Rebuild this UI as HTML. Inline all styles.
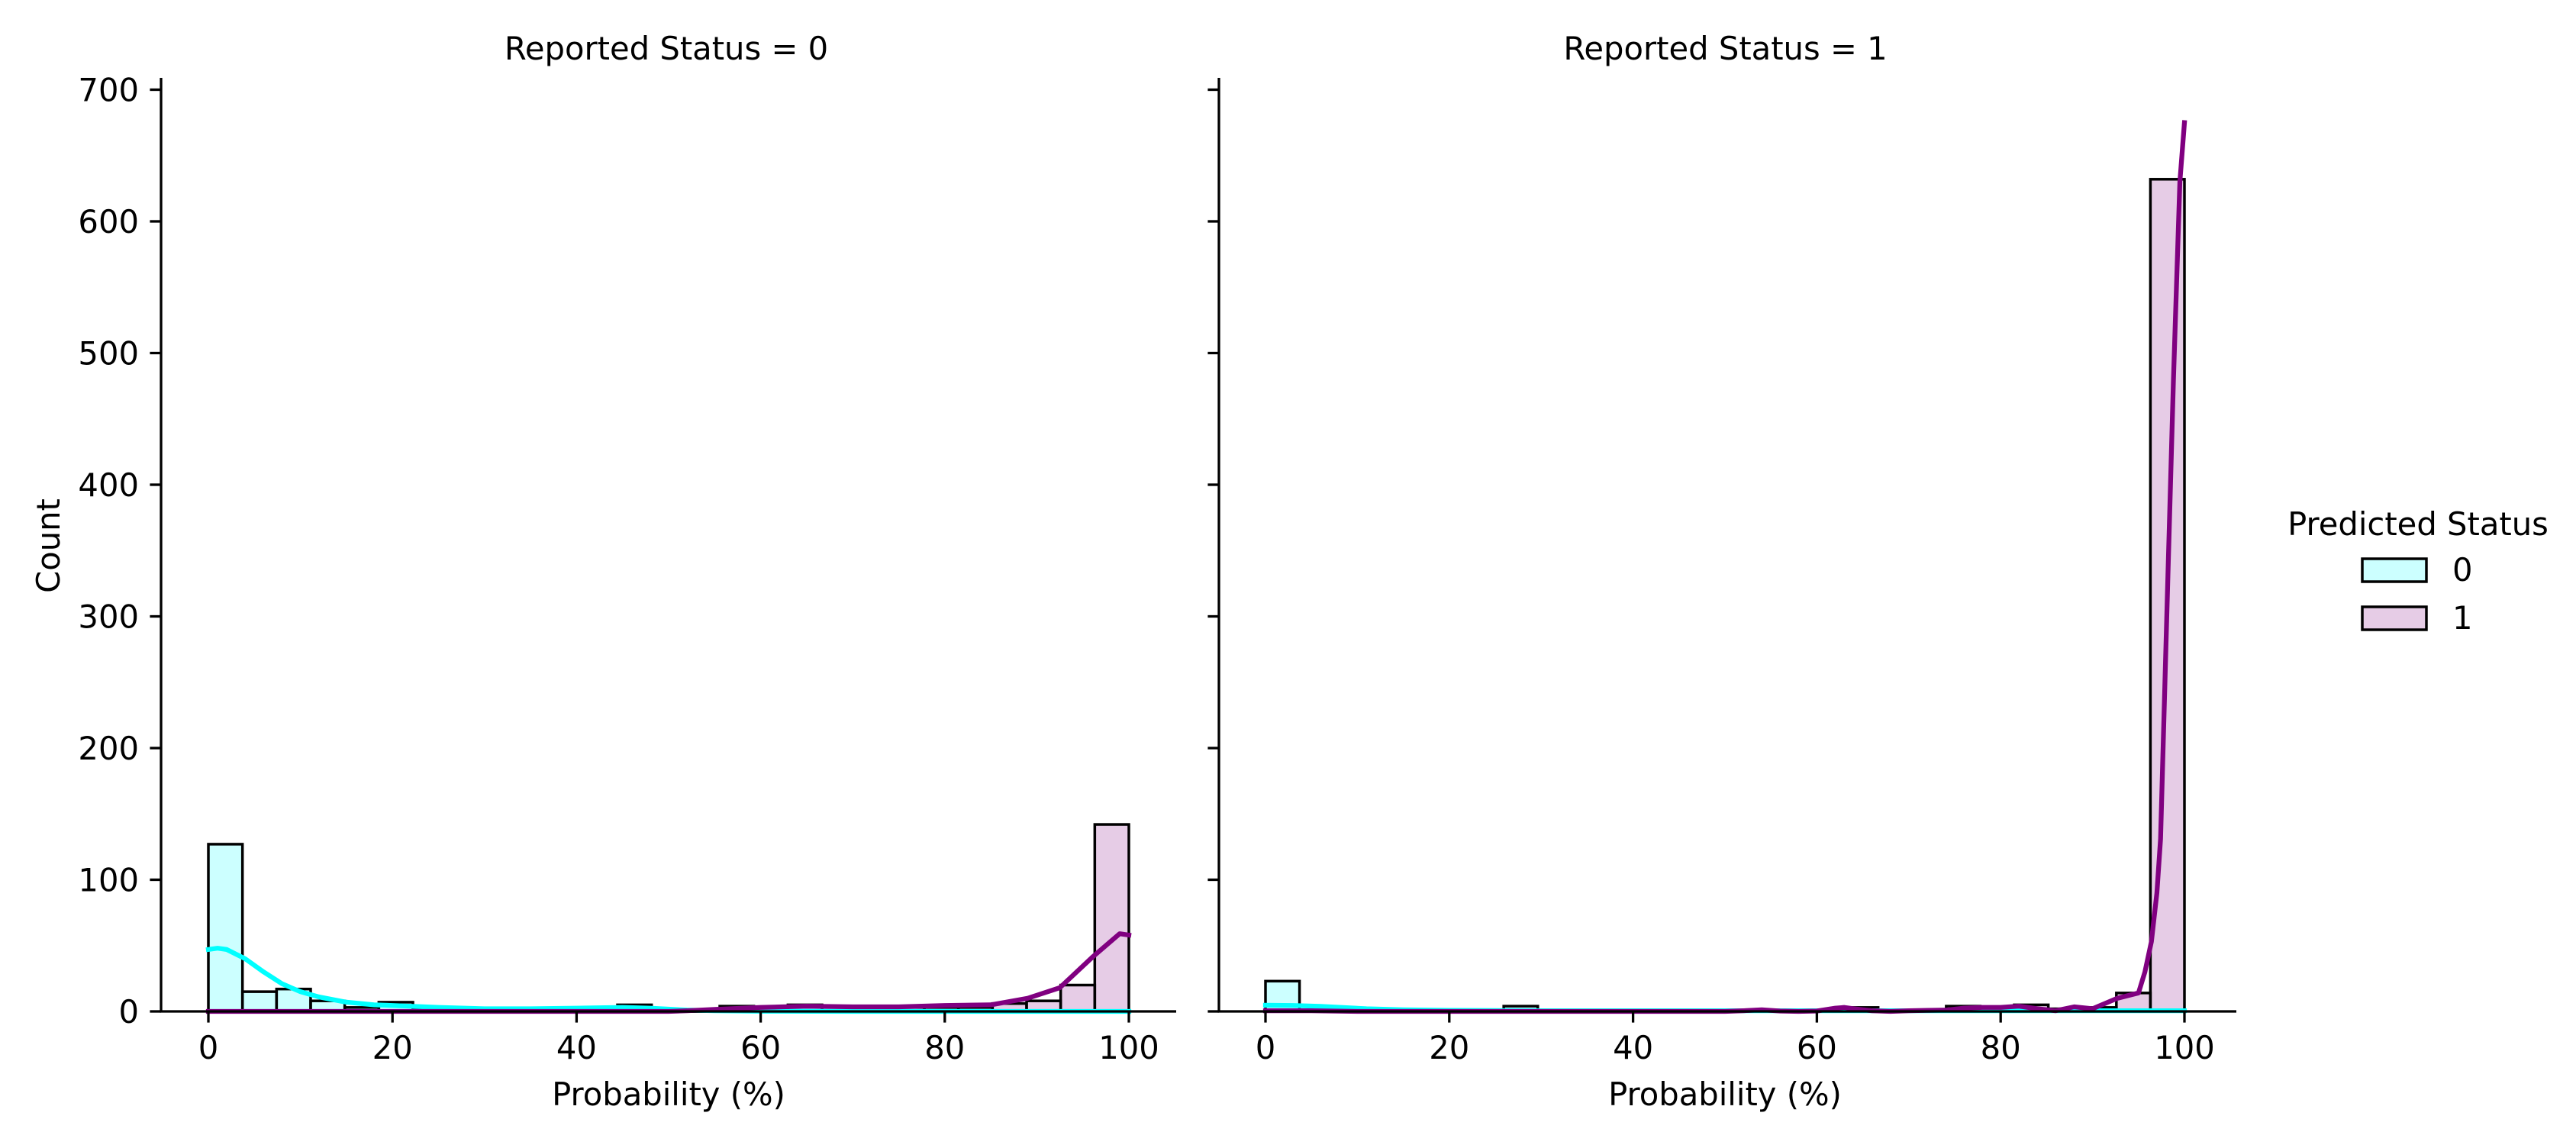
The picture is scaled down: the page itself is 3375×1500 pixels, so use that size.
<!DOCTYPE html>
<html><head><meta charset="utf-8"><style>
html,body{margin:0;padding:0;background:#fff;}
svg{display:block;font-family:"DejaVu Sans","Liberation Sans",sans-serif;}
</style></head><body>
<svg id="chart" width="3375" height="1500" viewBox="0 0 3375 1500">
<g id="g"></g>
</svg>
<script>
// ---- data ----
const binCount = 27;
const yTicks = [0,100,200,300,400,500,600,700];
const xTicks = [0,20,40,60,80,100];
const panelTitles = ["Reported Status = 0","Reported Status = 1"];
const left0 = [127,15,17,8,3,7,1,1,1,2,1,1,5,1,1,0,1,0,0,0,0,0,0,0,0,0,0];
const left1 = [0,0,0,0,0,0,0,0,0,0,0,0,0,1,1,4,3,5,4,3,3,3,3,6,8,20,142];
const right0 = [23,0,0,0,0,0,0,4,0,0,0,0,0,0,0,0,0,0,0,0,0,0,0,0,0,0,0];
const right1 = [0,0,0,0,0,0,0,0,0,0,0,0,0,0,1,0,0,3,0,1,4,2,5,2,3,14,632];
const kdeL0x = [0,1,2,4,6,8,10,12,15,18,20,25,30,35,40,45,48,52,55,60,70,80,90,100];
const kdeL0y = [47,48,47,40,30,21,15,11,7,5,4.5,3,2,2,2.5,3,2.5,1,0.5,0.2,0,0,0,0];
const kdeL1x = [0,10,20,30,40,50,52,55,60,65,70,75,80,85,89,92.5,96,99,100];
const kdeL1y = [0,0,0,0,0,0,0.5,1.5,3,4,3.5,3.5,4.5,5,10,18,41,59,58];
const kdeR0x = [0,3,6,11,15,20,30,50,70,100];
const kdeR0y = [4.7,4.5,3.8,2,1.2,0.8,0.5,0.5,0.5,0.5];
const kdeR1x = [0,5,10,20,40,50,52,54,56,58,60,62,63,64,66,68,70,72,74,76,78,80,82,84,86,88,90,92.7,95,95.7,96.4,97,97.4,98.2,98.8,99.5,100];
const kdeR1y = [0.5,0.5,0,0,0,0,0.5,1.2,0.3,0,0.3,2.5,3,2,0.5,0,0.5,0.8,1,2.5,3,3,4,2,0.5,3.5,2,10,14,30,53,90,131,330,480,630,675];

const NS="http://www.w3.org/2000/svg";
const g=document.getElementById('g');
function el(tag,attrs,parent){const e=document.createElementNS(NS,tag);for(const k in attrs)e.setAttribute(k,attrs[k]);(parent||g).appendChild(e);return e;}
const Y0=1325, YS=1.725, YTOP=102;
const panels=[
 {x0:273,x100:1479,sx:211,ex:1541,h0:left0,h1:left1,k0x:kdeL0x,k0y:kdeL0y,k1x:kdeL1x,k1y:kdeL1y,labels:true},
 {x0:1658,x100:2862,sx:1597,ex:2930,h0:right0,h1:right1,k0x:kdeR0x,k0y:kdeR0y,k1x:kdeR1x,k1y:kdeR1y,labels:false}
];
const yScale=v=>Y0-v*YS;
panels.forEach((p,pi)=>{
 const xs=v=>p.x0+(p.x100-p.x0)*v/100;
 const pg=el('g',{});
 
 
 const bw=100/binCount;
 [[p.h0,'#00ffff','predicted-0'],[p.h1,'#800080','predicted-1']].forEach(([arr,col,nm])=>{
  arr.forEach((v,i)=>{
   const r=el('rect',{x:xs(i*bw),y:yScale(v),width:xs((i+1)*bw)-xs(i*bw),height:v*YS,fill:col,'fill-opacity':0.2,stroke:'#000','stroke-width':3.5},pg);
   
   
  });
 });
 [[p.k0x,p.k0y,'#00ffff','kde-predicted-0'],[p.k1x,p.k1y,'#800080','kde-predicted-1']].forEach(([kx,ky,col,nm])=>{
  const pts=kx.map((x,i)=>xs(x).toFixed(1)+','+yScale(ky[i]).toFixed(1)).join(' ');
  const l=el('polyline',{points:pts,fill:'none',stroke:col,'stroke-width':6.25,'stroke-linejoin':'round','stroke-linecap':'square'},pg);
  
  
 });
 const ys=el('line',{x1:p.sx,y1:YTOP,x2:p.sx,y2:Y0,stroke:'#000','stroke-width':3.3},pg);
 
 
 const xsp=el('line',{x1:p.sx-1.6,y1:Y0,x2:p.ex,y2:Y0,stroke:'#000','stroke-width':3.3},pg);
 
 
 yTicks.forEach(t=>{
  const tl=el('line',{x1:p.sx-14.6,y1:yScale(t),x2:p.sx,y2:yScale(t),stroke:'#000','stroke-width':3.3},pg);
  
  
  if(p.labels){
   const tx=el('text',{x:p.sx-29,y:yScale(t)+15,'text-anchor':'end','font-size':41.7},pg);
   tx.textContent=t;
   
   
  }
 });
 xTicks.forEach(t=>{
  const tl=el('line',{x1:xs(t),y1:Y0,x2:xs(t),y2:Y0+14.6,stroke:'#000','stroke-width':3.3},pg);
  
  
  const tx=el('text',{x:xs(t),y:Y0+62,'text-anchor':'middle','font-size':41.7},pg);
  tx.textContent=t;
  
  
 });
 const xl=el('text',{x:(xs(0)+xs(100))/2,y:1448,'text-anchor':'middle','font-size':41.7},pg);
 xl.textContent='Probability (%)';
 
 
 const tt=el('text',{x:(p.sx+p.ex)/2-3,y:78,'text-anchor':'middle','font-size':41.7},pg);
 tt.textContent=panelTitles[pi];
 
 
});
const yl=el('text',{x:0,y:0,'text-anchor':'middle','font-size':41.7,transform:'translate(78,715) rotate(-90)'});
yl.textContent='Count';


const lg=el('g',{});


const lt=el('text',{x:3168,y:701,'text-anchor':'middle','font-size':41.7},lg);
lt.textContent='Predicted Status';


[['0','#00ffff',732],['1','#800080',795]].forEach(([lab,col,y])=>{
 const r=el('rect',{x:3095,y:y,width:84,height:30,fill:col,'fill-opacity':0.2,stroke:'#000','stroke-width':3.5},lg);
 
 
 const t=el('text',{x:3213,y:y+29,'font-size':41.7},lg);
 t.textContent=lab;
 
 
});
</script>
</body></html>
